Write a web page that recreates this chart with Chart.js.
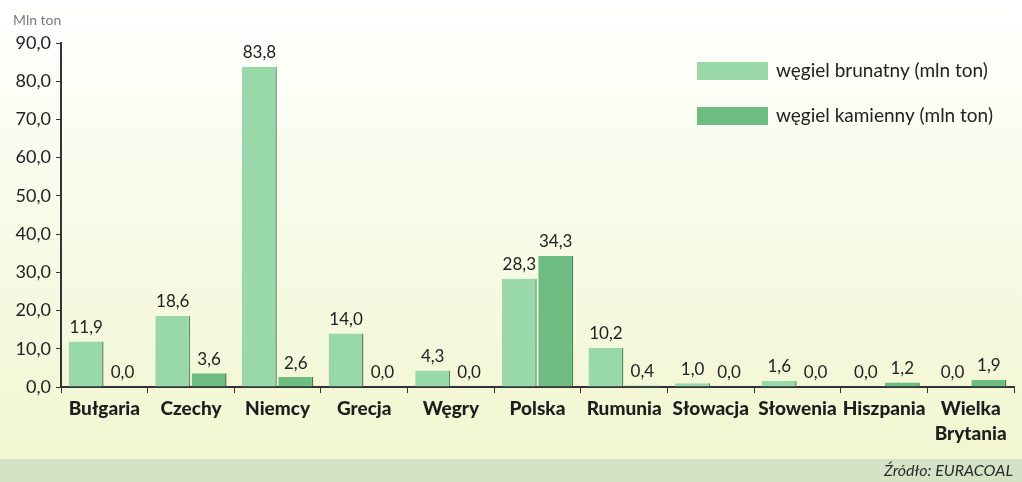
<!DOCTYPE html>
<html>
<head>
<meta charset="utf-8">
<script src="https://cdn.jsdelivr.net/npm/chart.js@4.4.1/dist/chart.umd.min.js"></script>
<style>
  html, body { margin: 0; padding: 0; background: #fff; }
  #wrap { width: 1022px; height: 482px; position: relative; }
</style>
</head>
<body>
<div id="wrap"><canvas id="myChart" width="1022" height="482"></canvas></div>
<script>
// Data
const countries = ['Bułgaria', 'Czechy', 'Niemcy', 'Grecja', 'Węgry', 'Polska', 'Rumunia', 'Słowacja', 'Słowenia', 'Hiszpania', ['Wielka', 'Brytania']];
const brownCoal = [11.9, 18.6, 83.8, 14.0, 4.3, 28.3, 10.2, 1.0, 1.6, 0.0, 0.0];
const hardCoal = [0.0, 3.6, 2.6, 0.0, 0.0, 34.3, 0.4, 0.0, 0.0, 1.2, 1.9];
const seriesNames = ['węgiel brunatny (mln ton)', 'węgiel kamienny (mln ton)'];
const yTicks = [0, 10, 20, 30, 40, 50, 60, 70, 80, 90];

const fmt = v => v.toFixed(1).replace('.', ',');
const fontName = 'Lato, "Open Sans", sans-serif';

// background, band, source text, value labels, legend
const decor = {
    id: 'decor',
    beforeDraw(chart) {
        const ctx = chart.ctx;
        const w = chart.width, h = chart.height;
        ctx.save();
        const g = ctx.createLinearGradient(0, 0, 0, 459);
        g.addColorStop(0, '#ffffff');
        g.addColorStop(1, '#f1f6d0');
        ctx.fillStyle = g;
        ctx.fillRect(0, 0, w, 459);
        ctx.fillStyle = '#d4e2c5';
        ctx.fillRect(0, 459, w, h - 459);
        ctx.fillStyle = '#2b2b2b';
        ctx.font = 'italic 16px ' + fontName;
        ctx.textAlign = 'right';
        ctx.textBaseline = 'middle';
        ctx.fillText('Źródło: EURACOAL', 1013, 471);
        ctx.fillStyle = '#7a7a7a';
        ctx.font = '14px ' + fontName;
        ctx.textAlign = 'left';
        ctx.fillText('Mln ton', 13, 20);
        ctx.restore();
    },
    afterDatasetsDraw(chart) {
        const ctx = chart.ctx;
        ctx.save();
        ctx.fillStyle = '#222';
        ctx.font = '17px ' + fontName;
        ctx.textAlign = 'center';
        ctx.textBaseline = 'middle';
        chart.data.datasets.forEach((ds, i) => {
            chart.getDatasetMeta(i).data.forEach((bar, j) => {
                ctx.fillText(fmt(ds.data[j]), bar.x, bar.y - 14);
            });
        });
        // legend
        ctx.textAlign = 'left';
        ctx.font = '19px ' + fontName;
        chart.data.datasets.forEach((ds, i) => {
            const y = 71 + i * 45;
            ctx.fillStyle = ds.backgroundColor;
            ctx.fillRect(697, y - 9, 71, 18);
            ctx.fillStyle = '#222';
            ctx.fillText(ds.label, 776, y);
        });
        ctx.restore();
    }
};

const config = {
    type: 'bar',
    data: {
        labels: countries,
        datasets: [{
            label: seriesNames[0],
            data: brownCoal,
            backgroundColor: '#98d8a9',
            borderColor: '#5c8f68',
            borderWidth: { top: 0, right: 1.5, bottom: 0, left: 0 },
            borderSkipped: false,
            categoryPercentage: 0.84,
            barPercentage: 0.96
        }, {
            label: seriesNames[1],
            data: hardCoal,
            backgroundColor: '#6dbd83',
            borderColor: '#3f7a50',
            borderWidth: { top: 0, right: 1.5, bottom: 0, left: 0 },
            borderSkipped: false,
            categoryPercentage: 0.84,
            barPercentage: 0.96
        }]
    },
    options: {
        responsive: false,
        animation: false,
        layout: { padding: { left: 0, right: 8, top: 43, bottom: 0 } },
        plugins: {
            legend: { display: false },
            tooltip: { enabled: false }
        },
        scales: {
            x: {
                grid: { drawOnChartArea: false, drawTicks: true, tickLength: 6, color: '#333', offset: true },
                border: { color: '#333', width: 2 },
                ticks: {
                    color: '#1e1e1e',
                    font: { family: fontName, size: 19, weight: '900', lineHeight: 1.3 },
                    padding: 4,
                    maxRotation: 0,
                    autoSkip: false
                },
                afterFit(scale) { scale.height = 95; }
            },
            y: {
                min: 0,
                max: 90,
                afterBuildTicks(scale) { scale.ticks = yTicks.map(v => ({ value: v })); },
                grid: { drawOnChartArea: false, drawTicks: true, tickLength: 5, color: '#333' },
                border: { color: '#333', width: 2 },
                ticks: {
                    color: '#222',
                    font: { family: fontName, size: 18 },
                    padding: 5,
                    callback: v => fmt(v)
                },
                afterFit(scale) { scale.width = 61; }
            }
        }
    },
    plugins: [decor]
};

var myChart = new Chart(document.getElementById('myChart'), config);
</script>
</body>
</html>
